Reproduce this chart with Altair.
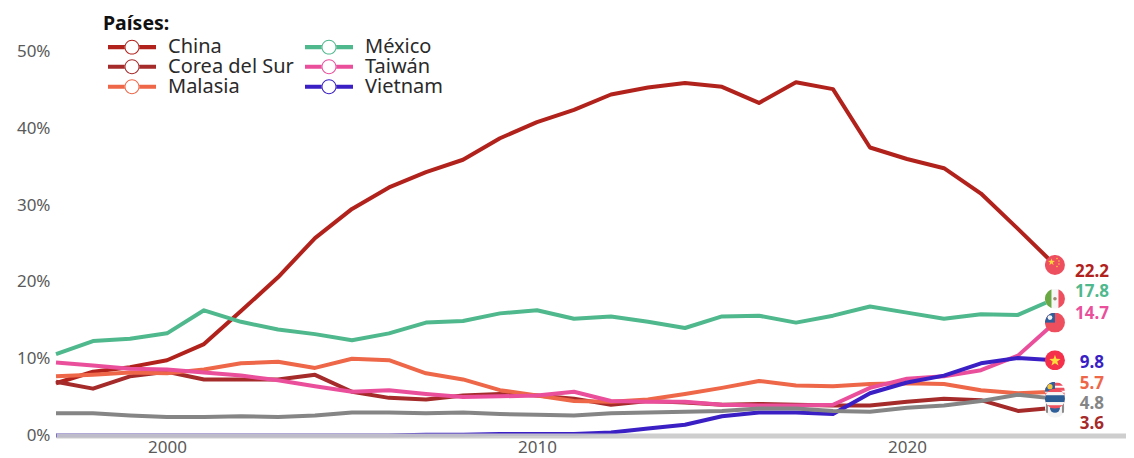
import base64
import math
import altair as alt
import pandas as pd

years = list(range(1997, 2025))
china = [6.8, 8.3, 8.9, 9.8, 11.9, 16.2, 20.6, 25.7, 29.5, 32.3, 34.3, 35.9, 38.7, 40.8, 42.4, 44.4, 45.3, 45.9, 45.4, 43.3, 46.0, 45.1, 37.5, 36.0, 34.8, 31.5, 26.9, 22.2]
corea = [7.0, 6.1, 7.7, 8.3, 7.3, 7.3, 7.3, 7.9, 5.7, 4.9, 4.7, 5.2, 5.4, 5.2, 4.8, 4.0, 4.5, 4.3, 4.0, 4.1, 4.0, 3.9, 3.9, 4.4, 4.8, 4.6, 3.2, 3.6]
malasia = [7.7, 7.9, 8.2, 8.1, 8.6, 9.4, 9.6, 8.8, 10.0, 9.8, 8.1, 7.3, 5.9, 5.2, 4.5, 4.4, 4.7, 5.4, 6.2, 7.1, 6.5, 6.4, 6.7, 6.8, 6.7, 5.9, 5.5, 5.7]
mexico = [10.6, 12.3, 12.6, 13.3, 16.3, 14.8, 13.8, 13.2, 12.4, 13.3, 14.7, 14.9, 15.9, 16.3, 15.2, 15.5, 14.8, 14.0, 15.5, 15.6, 14.7, 15.6, 16.8, 16.0, 15.2, 15.8, 15.7, 17.8]
taiwan = [9.5, 9.1, 8.7, 8.6, 8.2, 7.8, 7.2, 6.4, 5.7, 5.9, 5.4, 5.0, 5.1, 5.2, 5.7, 4.5, 4.4, 4.4, 4.0, 3.9, 3.9, 4.0, 6.2, 7.4, 7.7, 8.5, 10.4, 14.7]
vietnam = [0, 0, 0, 0, 0, 0, 0, 0, 0, 0, 0.1, 0.1, 0.2, 0.2, 0.2, 0.4, 0.9, 1.4, 2.5, 3.0, 3.0, 2.8, 5.5, 6.9, 7.8, 9.4, 10.1, 9.8]
tailandia = [2.9, 2.9, 2.6, 2.4, 2.4, 2.5, 2.4, 2.6, 3.0, 3.0, 2.9, 3.0, 2.8, 2.7, 2.6, 2.9, 3.0, 3.1, 3.2, 3.5, 3.5, 3.2, 3.1, 3.6, 3.9, 4.5, 5.3, 4.8]

legend_names = ["China", "Corea del Sur", "Malasia", "México", "Taiwán", "Vietnam"]
legend_colors = ["#b2221c", "#a52a2a", "#ee6748", "#4fb88d", "#ea4f9c", "#3a1fc4"]
other_name = "Tailandia"
other_color = "#858585"
FONT = "Noto Sans"

series = {"China": china, "Corea del Sur": corea, "Malasia": malasia, "México": mexico,
          "Taiwán": taiwan, "Vietnam": vietnam, other_name: tailandia}
df = pd.DataFrame([{"year": y, "pais": k, "v": v} for k, vals in series.items() for y, v in zip(years, vals)])

x_scale = alt.Scale(domain=[1997, 2025.92], nice=False, zero=False)
y_scale = alt.Scale(domain=[0, 55.66], nice=False)
color_scale = alt.Scale(domain=legend_names + [other_name], range=legend_colors + [other_color])

# legend glyph: two bars and a thin ring (opposite winding leaves the ring hollow)
glyph = ("M-1,-0.085 L-0.3,-0.085 L-0.3,0.085 L-1,0.085 Z "
         "M0.3,-0.085 L1,-0.085 L1,0.085 L0.3,0.085 Z "
         "M-0.31,0 A0.31,0.31 0 1,0 0.31,0 A0.31,0.31 0 1,0 -0.31,0 Z "
         "M-0.27,0 A0.27,0.27 0 1,1 0.27,0 A0.27,0.27 0 1,1 -0.27,0 Z")

x_axis = alt.Axis(values=[2000, 2010, 2020], format="d", title=None, grid=False, ticks=False,
                  domain=True, domainColor="#cacaca", domainWidth=5, domainOpacity=0.92,
                  labelFont=FONT, labelFontSize=17, labelColor="#5a5a5a", labelPadding=4, zindex=1)
y_axis = alt.Axis(values=[0, 10, 20, 30, 40, 50], labelExpr="datum.value + '%'", title=None, grid=False,
                  ticks=False, domain=False, labelFont=FONT, labelFontSize=17, labelColor="#5a5a5a",
                  labelPadding=6)
X = alt.X("year:Q", scale=x_scale, axis=x_axis)
Y = alt.Y("v:Q", scale=y_scale, axis=y_axis)

lines = alt.Chart(df).mark_line(strokeWidth=4, strokeJoin="round", clip=False).encode(
    x=X,
    y=Y,
    color=alt.Color("pais:N", scale=color_scale, legend=alt.Legend(
        title="Países:", values=legend_names, orient="none", legendX=47, legendY=7, columns=2, direction="vertical",
        titleFont=FONT, titleFontSize=19.5, titleFontWeight="bold", titleColor="#111", titlePadding=3,
        labelFont=FONT, labelFontSize=20, labelColor="#2a2a2a", labelOffset=12, symbolType=glyph,
        symbolSize=2304, symbolStrokeWidth=0, symbolOffset=5, clipHeight=18.5, rowPadding=-2.5, columnPadding=6,
        symbolOpacity=1)),
    order=alt.Order("pais_rank:Q"),
    detail="pais:N",
).transform_calculate(pais_rank=f"indexof({(legend_names + [other_name])!r}, datum.pais)")


def svg_uri(body):
    s = f'<svg xmlns="http://www.w3.org/2000/svg" viewBox="0 0 20 20"><defs><clipPath id="c"><circle cx="10" cy="10" r="10"/></clipPath></defs><g clip-path="url(#c)">{body}</g></svg>'
    return "data:image/svg+xml;base64," + base64.b64encode(s.encode()).decode()


def star(x, y, r, c):
    pts = []
    for i in range(10):
        rr = r if i % 2 == 0 else r * 0.4
        pts.append(f"{x + rr * math.sin(i * math.pi / 5):.2f},{y - rr * math.cos(i * math.pi / 5):.2f}")
    return f'<polygon fill="{c}" points="{" ".join(pts)}"/>'


RED = "#ee4f5f"
flags_svg = {
    "Corea del Sur": '<rect width="20" height="20" fill="#f4f4f4"/><path d="M5,10 a5,5 0 0,1 10,0 z" fill="#e8505f"/><path d="M5,10 a5,5 0 0,0 10,0 z" fill="#2f5f9a"/><rect x="1" y="5" width="2" height="10" fill="#444" opacity=".6"/><rect x="17" y="5" width="2" height="10" fill="#444" opacity=".6"/>',
    "Malasia": '<rect width="20" height="20" fill="#fff"/><rect y="1" width="20" height="3" fill="#ee4f5f"/><rect y="6" width="20" height="3" fill="#ee4f5f"/><rect y="11" width="20" height="3" fill="#ee4f5f"/><rect y="16" width="20" height="3" fill="#ee4f5f"/><rect width="10" height="10" fill="#2f5f9a"/><circle cx="5" cy="5" r="2.6" fill="#f4c63d"/>',
    other_name: '<rect width="20" height="20" fill="#ee4f5f"/><rect y="3.4" width="20" height="13.2" fill="#f6f6f6"/><rect y="6.6" width="20" height="6.8" fill="#2b5c94"/>',
    "Vietnam": f'<rect width="20" height="20" fill="#f4304a"/>{star(10, 10.5, 6, "#ffdc3c")}',
    "Taiwán": f'<rect width="20" height="20" fill="{RED}"/><rect width="10" height="10" fill="#2f5f9a"/><circle cx="5" cy="5" r="2.4" fill="#f4f4f4"/>',
    "México": '<rect width="20" height="20" fill="#f6f6f6"/><rect width="6.5" height="20" fill="#6aa843"/><rect x="13.5" width="6.5" height="20" fill="#ee4f5f"/><circle cx="10" cy="10" r="1.8" fill="#9a8a70"/>',
    "China": f'<rect width="20" height="20" fill="{RED}"/>{star(6.5, 7, 3.6, "#ffd83c")}<circle cx="12" cy="3.5" r=".7" fill="#ffd83c"/><circle cx="14" cy="6" r=".7" fill="#ffd83c"/><circle cx="14" cy="9" r=".7" fill="#ffd83c"/><circle cx="12" cy="11.5" r=".7" fill="#ffd83c"/>',
}
flag_order = ["Corea del Sur", "Malasia", other_name, "Vietnam", "Taiwán", "México", "China"]
flag_df = pd.DataFrame([{"year": years[-1], "pais": k, "v": series[k][-1], "url": svg_uri(flags_svg[k])} for k in flag_order])
flags = alt.Chart(flag_df).mark_image(width=20, height=20).encode(x=X, y=Y, url="url:N")

# value labels, nudged apart as in the reference
label_dy = {"China": 7, "México": -7, "Taiwán": -9, "Vietnam": 3, "Malasia": -8, other_name: 5, "Corea del Sur": 16}
label_dx = 37
label_layers = []
for name, dy in label_dy.items():
    sub = pd.DataFrame([{"year": years[-1], "v": series[name][-1], "pais": name}])
    label_layers.append(
        alt.Chart(sub).mark_text(font=FONT, fontSize=17, fontWeight="bold", dx=label_dx, dy=dy, align="center", baseline="middle").encode(
            x=X,
            y=Y,
            text=alt.Text("v:Q", format=".1f"),
            color=alt.Color("pais:N", scale=color_scale, legend=None),
        )
    )

chart = alt.layer(lines, flags, *label_layers).properties(
    width=1070, height=427.5,
    background="white",
    padding={"left": 48, "top": 0, "right": 0, "bottom": 22},
    autosize=alt.AutoSizeParams(type="none"),
).configure_view(strokeWidth=0, strokeOpacity=0)

chart.save("out.html", embed_options={"renderer": "svg", "actions": False})
